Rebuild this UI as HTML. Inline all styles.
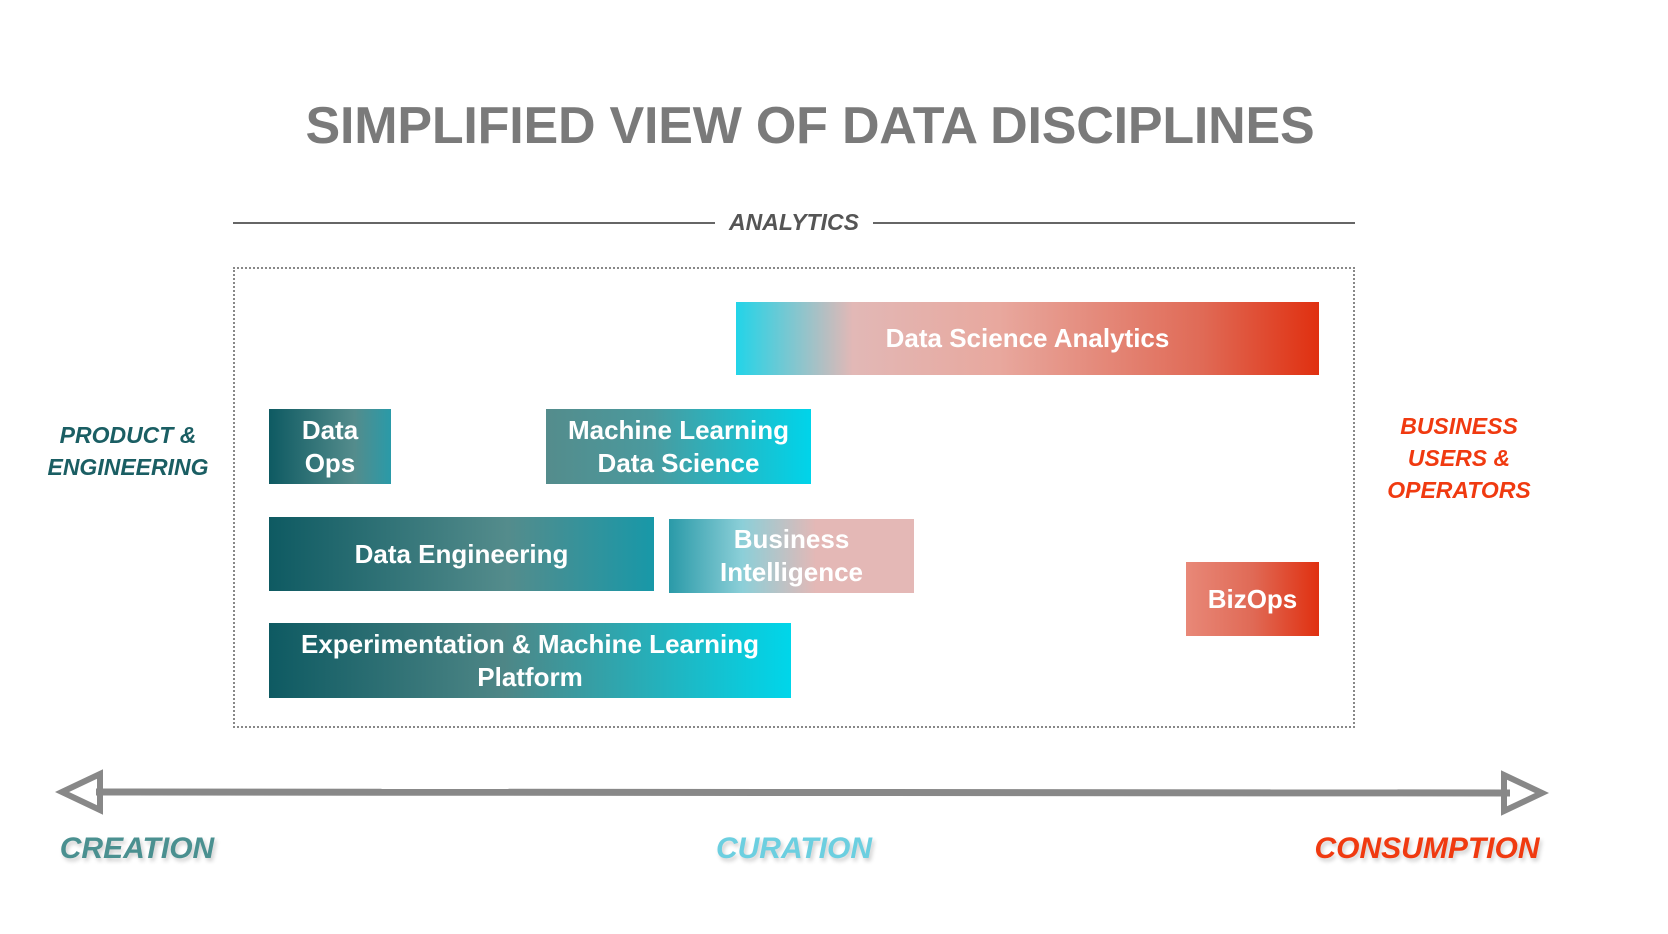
<!DOCTYPE html>
<html><head><meta charset="utf-8"><style>
body{margin:0;width:1668px;height:934px;background:#fff;position:relative;overflow:hidden;font-family:"Liberation Sans",sans-serif}
.a{position:absolute}
.t{left:0;width:1620px;top:96px;text-align:center;font-size:52px;font-weight:bold;color:#7a7a7a;letter-spacing:-0.2px}
.b{position:absolute;display:flex;align-items:center;justify-content:center;text-align:center;color:#fff;font-weight:bold;font-size:26px;line-height:33px}
.i{font-style:italic;font-weight:bold;text-align:center}
</style></head><body>
<div class="a t">SIMPLIFIED VIEW OF DATA DISCIPLINES</div>
<div class="a" style="left:233px;top:222px;width:482px;height:2px;background:#666"></div>
<div class="a" style="left:873px;top:222px;width:482px;height:2px;background:#666"></div>
<div class="a i" style="left:715px;width:158px;top:209px;font-size:23px;color:#555">ANALYTICS</div>
<div class="a" style="left:233px;top:267px;width:1122px;height:461px;border:2px dotted #888;box-sizing:border-box"></div>

<div class="b" style="left:736px;top:302px;width:583px;height:73px;background:linear-gradient(90deg,#22d4e8 0%,#e2b8b6 20%,#e8a89e 45%,#e06a56 80%,#e03010 100%)">Data Science Analytics</div>
<div class="b" style="left:269px;top:409px;width:122px;height:75px;background:linear-gradient(90deg,#0e5a62,#548c8c 70%,#2a9aa8)">Data<br>Ops</div>
<div class="b" style="left:546px;top:409px;width:265px;height:75px;background:linear-gradient(90deg,#548c8c,#4a9a9e 40%,#00d4ea)">Machine Learning<br>Data Science</div>
<div class="b" style="left:269px;top:517px;width:385px;height:74px;background:linear-gradient(90deg,#0e5a62,#548c8c 62%,#1898a8)">Data Engineering</div>
<div class="b" style="left:669px;top:519px;width:245px;height:74px;background:linear-gradient(90deg,#2a9aa8,#8ccfd8 30%,#e4b8b6 60%,#e4b8b6)">Business<br>Intelligence</div>
<div class="b" style="left:1186px;top:562px;width:133px;height:74px;background:linear-gradient(90deg,#e88878,#e06a56 50%,#e03010)">BizOps</div>
<div class="b" style="left:269px;top:623px;width:522px;height:75px;background:linear-gradient(90deg,#0e5a62,#4e8686 45%,#00d6ea)">Experimentation &amp; Machine Learning<br>Platform</div>

<div class="a i" style="left:28px;width:200px;top:419px;font-size:23px;line-height:32px;color:#1a5e63">PRODUCT &amp;<br>ENGINEERING</div>
<div class="a i" style="left:1359px;width:200px;top:410px;font-size:23px;line-height:32px;color:#f03a10">BUSINESS<br>USERS &amp;<br>OPERATORS</div>

<svg class="a" style="left:0;top:0" width="1668" height="934">
<line x1="96" y1="792" x2="1510" y2="793" stroke="#888" stroke-width="7"/>
<polygon points="62,792 100,774 100,810" fill="none" stroke="#888" stroke-width="6"/>
<polygon points="1542,793 1504,775 1504,811" fill="none" stroke="#888" stroke-width="6"/>
</svg>
<div class="a i" style="left:37px;width:200px;top:832px;font-size:30px;color:#4a9090;text-shadow:2px 3px 4px rgba(0,0,0,0.2)">CREATION</div>
<div class="a i" style="left:694px;width:200px;top:832px;font-size:30px;color:#6ccfe0;text-shadow:2px 3px 4px rgba(0,0,0,0.2)">CURATION</div>
<div class="a i" style="left:1297px;width:260px;top:832px;font-size:30px;color:#f03a10;text-shadow:2px 3px 4px rgba(0,0,0,0.2)">CONSUMPTION</div>
</body></html>
